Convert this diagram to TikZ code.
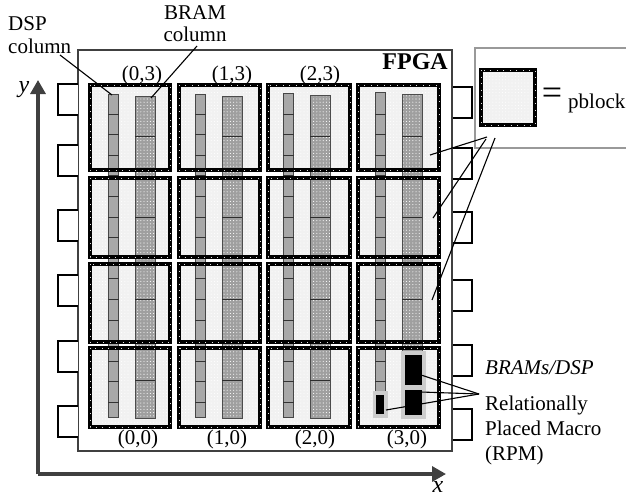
\documentclass[tikz,border=0pt]{standalone}
\usepackage{fontspec}
\setmainfont{Liberation Serif}
\usetikzlibrary{arrows.meta,patterns.meta}
\definecolor{axisgray}{gray}{0.25}
\begin{document}
\begin{tikzpicture}[x=1pt, y=-1pt, line join=miter,
    lbl/.style={inner sep=0pt, font=\fontsize{21}{24}\selectfont},
    iobox/.style={draw=black, line width=1.1pt, fill=white},
    blockfill/.style={fill=gray!11},
    blockdots/.style={pattern={Dots[distance=3.2pt,radius=.55pt]}, pattern color=white},
    blockline/.style={draw=black, line width=3.4pt},
    blockbeads/.style={draw=gray!25, line width=1pt, dash pattern=on 1pt off 5.5pt},
    dspcol/.style={fill=gray!68},
    bramcol/.style={fill=gray!75},
    leader/.style={draw=black, line width=1.1pt},
    axis/.style={draw=axisgray, line width=3.2pt, -{Triangle[length=14pt,width=15pt]}}]
    \useasboundingbox (0,0) rectangle (626,499);

    % 1. Khung FPGA
    \draw[axisgray, line width=2.2pt] (78,50) rectangle (452,451);

    % 2. IO boxes
    \foreach \y in {84,145,210,275,341,406}
        \draw[iobox] (78,\y) -- (58,\y) -- (58,\y+31) -- (78,\y+31);
    \foreach \y in {87,148,212,280,345,409}
        \draw[iobox] (453,\y) -- (472,\y) -- (472,\y+31) -- (453,\y+31);

    % 3. Nen pblock
    \foreach \l/\r in {90/170,179/260,268/350,358/439}
        \foreach \t/\b in {85/170,178/257,264/342,348/427} {
            \fill[blockfill] (\l,\t) rectangle (\r,\b);
            \fill[blockdots] (\l,\t) rectangle (\r,\b);
        }

    % 4. Cot DSP va BRAM
    \foreach \d/\t in {108/94,195/94,283/93,375/92} {
        \fill[dspcol] (\d,\t) rectangle (\d+10,417);
        \draw[gray!55!black, line width=1pt] (\d,\t) rectangle (\d+10,417);
        \foreach \n in {0,...,14}
            \draw[gray!40!black, line width=.8pt] (\d,114+\n*20.6) -- (\d+11,114+\n*20.6);
    }
    \foreach \d/\t in {135/96,222/96,310/95,402/94} {
        \fill[bramcol] (\d,\t) rectangle (\d+20,418);
        \fill[blockdots] (\d,\t) rectangle (\d+20,418);
        \draw[gray!60!black, line width=1pt] (\d,\t) rectangle (\d+20,418);
        \foreach \n in {136,217,299,380}
            \draw[gray!35!black, line width=1pt] (\d,\n) -- (\d+20,\n);
    }

    % 5. Vien pblock
    \foreach \l/\r in {90/170,179/260,268/350,358/439}
        \foreach \t/\b in {85/170,178/257,264/342,348/427} {
            \draw[blockline] (\l,\t) rectangle (\r,\b);
            \draw[blockbeads] (\l,\t) rectangle (\r,\b);
        }

    % 6. RPM
    \fill[gray!40] (401,351) rectangle (426,419);
    \fill[gray!40] (373,391) rectangle (388,418);
    \fill[black] (405,355) rectangle (422,385);
    \fill[black] (405,390) rectangle (422,415);
    \fill[black] (376,395) rectangle (384,414);

    % 7. Khung chu thich pblock
    \draw[gray!80, line width=1.2pt] (626,48) -- (475,48) -- (475,148) -- (626,148);
    \fill[blockfill] (481,70) rectangle (535,125);
    \fill[blockdots] (481,70) rectangle (535,125);
    \draw[blockline] (481,70) rectangle (535,125);
    \draw[blockbeads] (481,70) rectangle (535,125);
    \node[lbl, font=\fontsize{36}{36}\selectfont] (equals) at (552,96) {=};
    \node[lbl, anchor=base west] (pblock) at (568,108) {pblock};

    % 8. Truc toa do
    \coordinate (origin) at (38,474);
    \coordinate (ytip) at (38,80);
    \coordinate (xtip) at (446,474);
    \draw[axis] (origin) -- (ytip);
    \draw[axis] (origin) -- (xtip);
    \node[lbl, anchor=base, font=\fontsize{24}{24}\itshape] (ylabel) at (24,92) {y};
    \node[lbl, anchor=base, font=\fontsize{24}{24}\itshape] (xlabel) at (438,492) {x};

    % 9. Nhan
    \node[lbl, anchor=base west] (dsp1) at (8,30) {DSP};
    \node[lbl, anchor=base west] (dsp2) at (8,53) {column};
    \node[lbl, anchor=base] (bram1) at (195,19) {BRAM};
    \node[lbl, anchor=base] (bram2) at (195,41) {column};
    \node[lbl, anchor=base east, font=\fontsize{24}{24}\selectfont\bfseries] (fpga) at (448,69) {FPGA};
    \node[lbl, anchor=base] (blk03) at (142,80) {(0,3)};
    \node[lbl, anchor=base] (blk13) at (232,80) {(1,3)};
    \node[lbl, anchor=base] (blk23) at (320,80) {(2,3)};
    \node[lbl, anchor=base] (blk00) at (138,444) {(0,0)};
    \node[lbl, anchor=base] (blk10) at (227,444) {(1,0)};
    \node[lbl, anchor=base] (blk20) at (315,444) {(2,0)};
    \node[lbl, anchor=base] (blk30) at (407,444) {(3,0)};
    \node[lbl, anchor=base west, font=\fontsize{21}{24}\itshape] (brams) at (485,374) {BRAMs/DSP};
    \node[lbl, anchor=base west] (rpm1) at (485,410) {Relationally};
    \node[lbl, anchor=base west] (rpm2) at (485,435) {Placed Macro};
    \node[lbl, anchor=base west] (rpm3) at (485,460) {(RPM)};

    % 10. Duong dan
    \coordinate (dspstart) at (60,55);
    \coordinate (dspend) at (112,95);
    \coordinate (bramstart) at (197,46);
    \coordinate (bramend) at (151,98);
    \draw[leader] (dspstart) -- (dspend);
    \draw[leader] (bramstart) -- (bramend);
    \coordinate (legA) at (487,137);
    \coordinate (legB) at (486,139);
    \coordinate (legC) at (495,138);
    \coordinate (blkA) at (430,155);
    \coordinate (blkB) at (433,218);
    \coordinate (blkC) at (432,300);
    \draw[leader] (legA) -- (blkA);
    \draw[leader] (legB) -- (blkB);
    \draw[leader] (legC) -- (blkC);
    \coordinate (rpmjoin) at (479,394);
    \coordinate (rpmA) at (421,375);
    \coordinate (rpmB) at (421,392);
    \coordinate (rpmC) at (386,410);
    \draw[leader] (rpmjoin) -- (rpmA);
    \draw[leader] (rpmjoin) -- (rpmB);
    \draw[leader] (rpmjoin) -- (rpmC);
\end{tikzpicture}
\end{document}
